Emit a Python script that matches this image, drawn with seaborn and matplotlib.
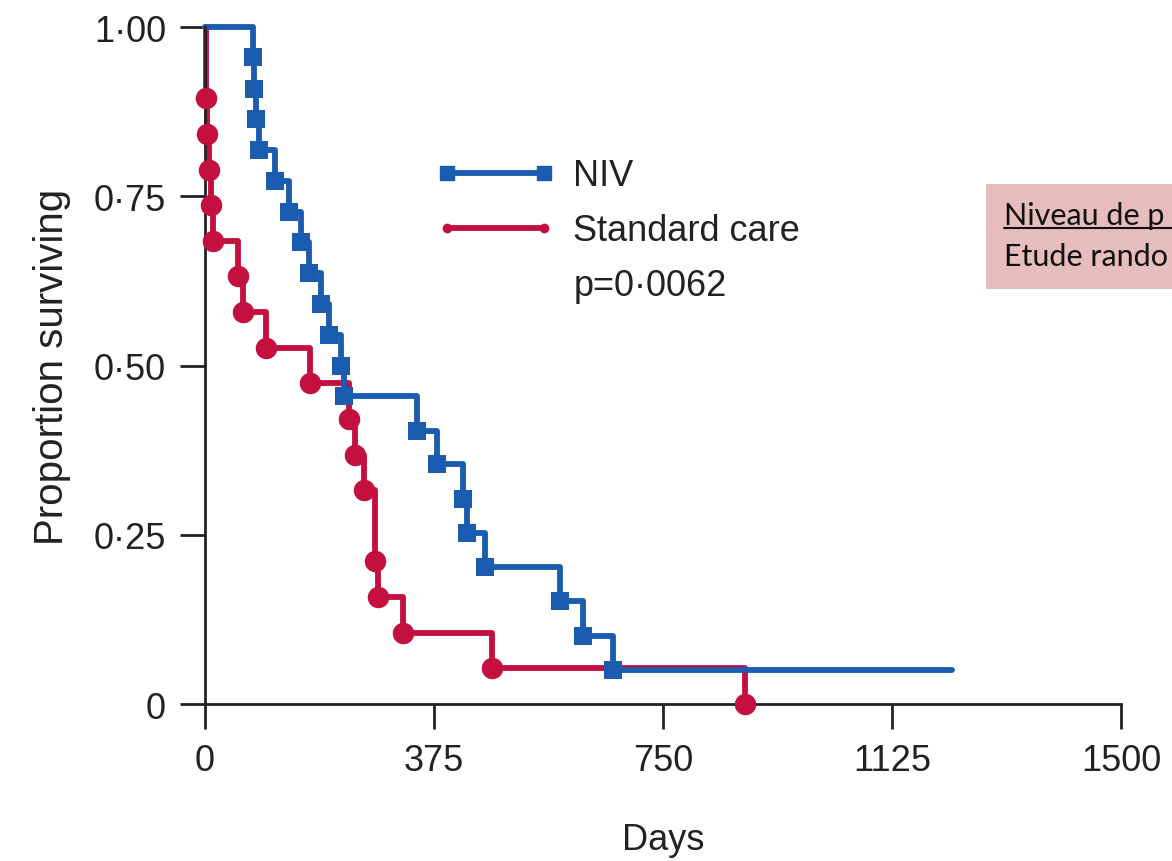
import numpy as np
import pandas as pd
import matplotlib
matplotlib.use("Agg")
import matplotlib.pyplot as plt
from matplotlib.lines import Line2D
from matplotlib.patches import Rectangle
import seaborn as sns

# Kaplan-Meier steps (event day, survival after the event)
niv_days = [78, 80, 83, 88, 115, 137, 157, 170, 190, 203, 222, 228,
            347, 380, 423, 429, 458, 582, 619, 668]
niv_surv = [0.955, 0.909, 0.864, 0.818, 0.773, 0.727, 0.682, 0.636, 0.591,
            0.545, 0.500, 0.455, 0.404, 0.354, 0.303, 0.253, 0.202, 0.152,
            0.101, 0.051]
niv_last = 1223

std_days = [2, 4, 7, 10, 13, 54, 62, 100, 172, 236, 245, 260, 279, 284,
            324, 470, 884]
std_surv = [0.895, 0.842, 0.789, 0.737, 0.684, 0.632, 0.579, 0.526, 0.474,
            0.421, 0.368, 0.316, 0.211, 0.158, 0.105, 0.053, 0.0]
std_last = 884

groups = ["NIV", "Standard care"]
p_text = "p=0·0062"
x_ticks = [0, 375, 750, 1125, 1500]
y_ticks = [0, 0.25, 0.5, 0.75, 1.0]
y_labels = ["0", "0·25", "0·50", "0·75", "1·00"]

BLUE = "#1b5bb0"
RED = "#c4103f"
INK = "#222222"
palette = {"NIV": BLUE, "Standard care": RED}

sns.set_style("ticks")
plt.rcParams["font.family"] = ["Liberation Sans", "DejaVu Sans"]


def curve_frame(name, days, surv, last):
    t = [0] + list(days) + [last]
    s = [1.0] + list(surv) + [surv[-1]]
    return pd.DataFrame({"day": t, "surv": s, "group": name})


curves = pd.concat([
    curve_frame("NIV", niv_days, niv_surv, niv_last),
    curve_frame("Standard care", std_days, std_surv, std_last),
], ignore_index=True)
events = pd.concat([
    pd.DataFrame({"day": niv_days, "surv": niv_surv, "group": "NIV"}),
    pd.DataFrame({"day": std_days, "surv": std_surv, "group": "Standard care"}),
], ignore_index=True)

fig = plt.figure(figsize=(11.72, 8.62), dpi=100)
ax = fig.add_axes([0.1749, 0.1821, 0.7816, 0.7854])

# red first so blue sits on top like the original
for g in ["Standard care", "NIV"]:
    sub = curves[curves.group == g]
    sns.lineplot(data=sub, x="day", y="surv", color=palette[g],
                 drawstyle="steps-post", estimator=None, sort=False,
                 linewidth=4.2, ax=ax, clip_on=False, legend=False)
    ev = events[events.group == g]
    sns.scatterplot(data=ev, x="day", y="surv", color=palette[g],
                    marker="s" if g == "NIV" else "o",
                    s=170 if g == "NIV" else 240, linewidth=0,
                    ax=ax, clip_on=False, legend=False, zorder=3)

ax.set_xlim(0, 1500)
ax.set_ylim(0, 1)
ax.set_xticks(x_ticks)
ax.set_xticklabels([str(v) for v in x_ticks])
ax.set_yticks(y_ticks)
ax.set_yticklabels(y_labels)
ax.tick_params(axis="both", labelsize=26, length=18, width=2, pad=10,
               colors=INK)
for side in ["top", "right"]:
    ax.spines[side].set_visible(False)
for side in ["left", "bottom"]:
    ax.spines[side].set_linewidth(2)
    ax.spines[side].set_color(INK)
ax.set_xlabel("Days", fontsize=26, labelpad=32, color=INK)
ax.set_ylabel("Proportion surviving", fontsize=29, labelpad=16, color=INK)

handles = [
    Line2D([0], [0], color=BLUE, lw=4.2, marker="s", markersize=10),
    Line2D([0], [0], color=RED, lw=4.2, marker="o", markersize=6),
]
leg = ax.legend(handles, groups, loc="upper left",
                bbox_to_anchor=(0.252, 0.806), frameon=False, fontsize=26,
                numpoints=2, handlelength=3.3, handletextpad=0.5,
                labelspacing=0.55, borderaxespad=0, borderpad=0)
for t in leg.get_texts():
    t.set_color(INK)
ax.text(0.403, 0.618, p_text, transform=ax.transAxes, fontsize=26,
        color=INK, va="center")

# pink annotation box on the right, cut by the figure edge
fig.patches.append(Rectangle((986 / 1172, 1 - 290 / 862), 0.2, 105 / 862,
                             transform=fig.transFigure, facecolor="#e7bcbc",
                             edgecolor="none", zorder=0))
fig.text(1004 / 1172, 1 - 216 / 862, "Niveau de p", fontsize=22,
         family=["Lato", "DejaVu Sans"], color="#111111", va="center")
fig.add_artist(Line2D([1004 / 1172, 1.0], [1 - 229 / 862] * 2,
                      transform=fig.transFigure, color="#111111", lw=1.5))
fig.text(1004 / 1172, 1 - 257 / 862, "Etude rando", fontsize=22,
         family=["Lato", "DejaVu Sans"], color="#111111", va="center")

fig.savefig("out.png", dpi=100)
